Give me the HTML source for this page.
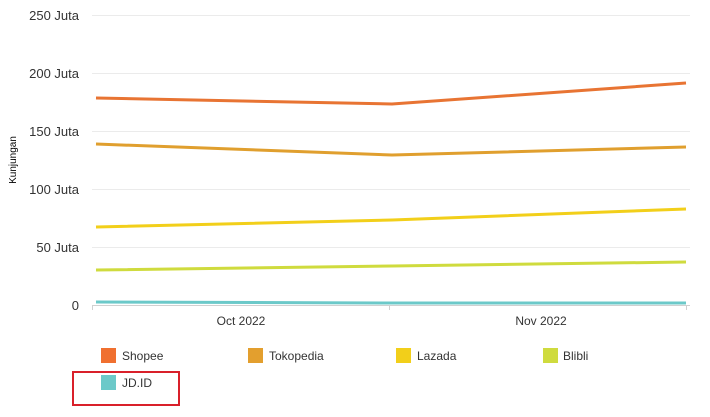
<!DOCTYPE html>
<html><head><style>
body{margin:0;background:#fff;}
svg text{font-family:"Liberation Sans",sans-serif;}
</style></head><body>
<svg width="710" height="412" xmlns="http://www.w3.org/2000/svg">
<g stroke="#ebebeb" stroke-width="1">
<line x1="92" y1="15.5" x2="690" y2="15.5"/>
<line x1="92" y1="73.5" x2="690" y2="73.5"/>
<line x1="92" y1="131.5" x2="690" y2="131.5"/>
<line x1="92" y1="189.5" x2="690" y2="189.5"/>
<line x1="92" y1="247.5" x2="690" y2="247.5"/>
</g>
<g stroke="#d0d0d0" stroke-width="1">
<line x1="92" y1="305.5" x2="690" y2="305.5"/>
<line x1="92.5" y1="305" x2="92.5" y2="310"/>
<line x1="389.5" y1="305" x2="389.5" y2="310"/>
<line x1="686.5" y1="305" x2="686.5" y2="310"/>
</g>
<g font-size="13" fill="#333" text-anchor="end">
<text x="79" y="20">250 Juta</text>
<text x="79" y="78">200 Juta</text>
<text x="79" y="136">150 Juta</text>
<text x="79" y="194">100 Juta</text>
<text x="79" y="252">50 Juta</text>
<text x="79" y="310">0</text>
</g>
<text transform="translate(16,160) rotate(-90)" font-size="10" fill="#000" text-anchor="middle">Kunjungan</text>
<g font-size="12" fill="#333" text-anchor="middle">
<text x="241" y="325">Oct 2022</text>
<text x="541" y="325">Nov 2022</text>
</g>
<g fill="none" stroke-width="3" stroke-linejoin="round">
<polyline stroke="#e87433" points="96,98 392,104 686,83"/>
<polyline stroke="#e09f2e" points="96,144 392,155 686,147"/>
<polyline stroke="#f2cf1a" points="96,227 392,220 686,209"/>
<polyline stroke="#cfdb3e" points="96,270 392,266 686,262"/>
<polyline stroke="#6cc9c9" points="96,302 392,303 686,303"/>
</g>
<g font-size="12" fill="#333">
<rect x="101" y="348" width="15" height="15" fill="#f07030"/><text x="122" y="360">Shopee</text>
<rect x="248" y="348" width="15" height="15" fill="#e39f2e"/><text x="269" y="360">Tokopedia</text>
<rect x="396" y="348" width="15" height="15" fill="#f2cf1a"/><text x="417" y="360">Lazada</text>
<rect x="543" y="348" width="15" height="15" fill="#cfdb3e"/><text x="563" y="360">Blibli</text>
<rect x="101" y="375" width="15" height="15" fill="#6cc9c9"/><text x="122" y="387">JD.ID</text>
</g>
<rect x="73" y="372" width="106" height="33" fill="none" stroke="#d9202a" stroke-width="2"/>
</svg>
</body></html>
